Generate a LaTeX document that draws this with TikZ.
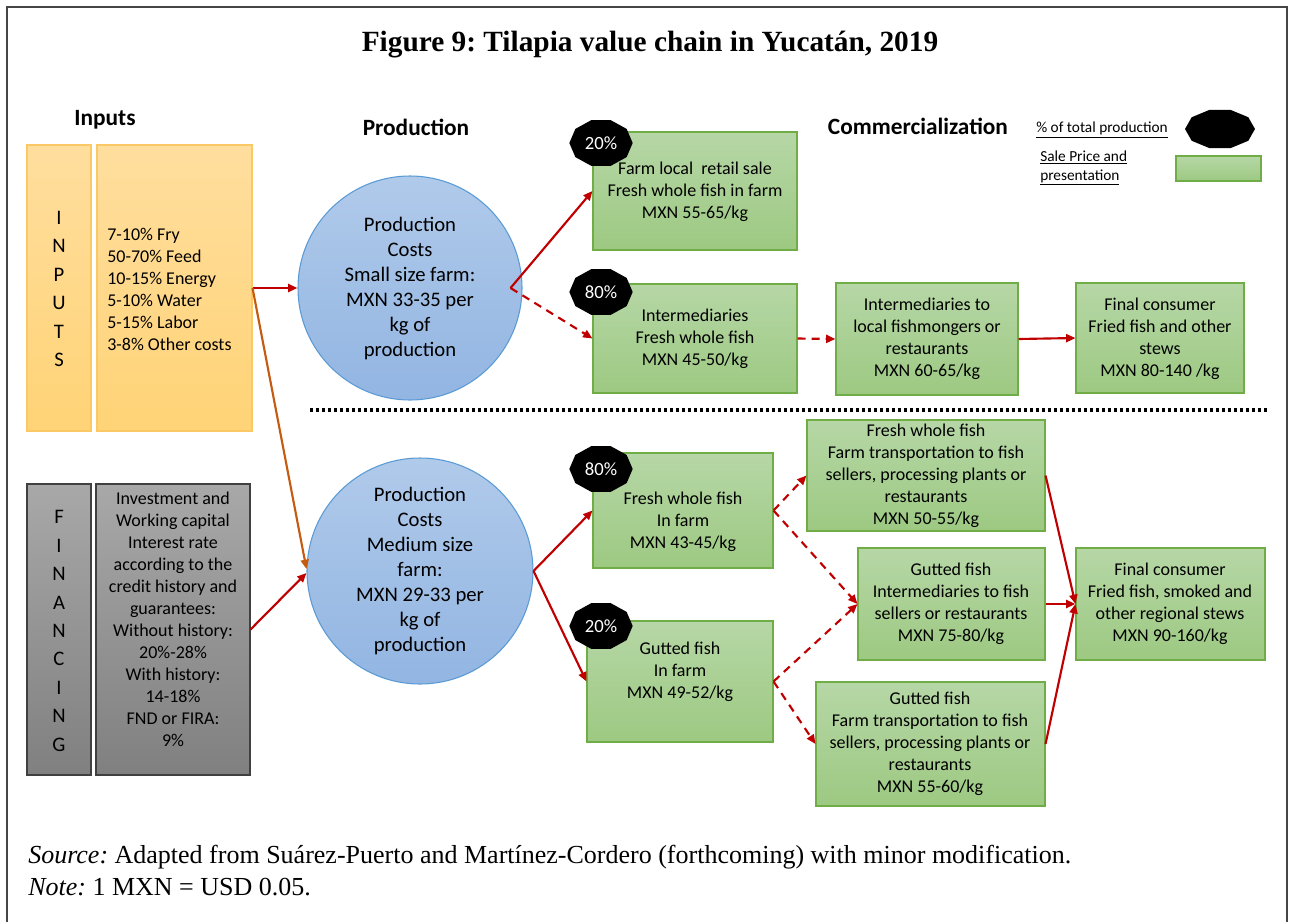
\documentclass[tikz,border=0pt]{standalone}
\usepackage{fontspec}
\setmainfont{Carlito}
\newfontfamily\seriffont{Liberation Serif}
\usetikzlibrary{arrows.meta,shapes.geometric,fit}
\frenchspacing
\definecolor{myred}{RGB}{192,0,0}
\definecolor{myorange}{RGB}{197,90,17}
\definecolor{gtop}{RGB}{182,215,166}
\definecolor{gbot}{RGB}{157,201,130}
\definecolor{gborder}{RGB}{112,173,71}
\definecolor{otop}{RGB}{255,222,158}
\definecolor{obot}{RGB}{255,211,118}
\definecolor{oborder}{RGB}{250,200,100}
\definecolor{ftop}{RGB}{168,168,168}
\definecolor{fbot}{RGB}{128,128,128}
\definecolor{fborder}{RGB}{64,64,64}
\definecolor{ctop}{RGB}{176,202,234}
\definecolor{cbot}{RGB}{146,181,226}
\definecolor{cborder}{RGB}{91,155,213}
\definecolor{framecol}{RGB}{70,70,70}
\newcommand{\mybadge}[6]{%
  \begin{scope}[shift={(#2,#3)}, xscale=#5]
    \node[badge, minimum size=#6, transform shape] (#1) at (0,0) {};
  \end{scope}
  \node[badgetxt] (#1t) at (#2,#3) {#4};}
\begin{document}
\begin{tikzpicture}[x=0.75pt,y=-0.75pt,
  gbox/.style={draw=gborder, line width=0.8pt, top color=gtop, bottom color=gbot, inner sep=0pt},
  obox/.style={draw=oborder, line width=0.8pt, top color=otop, bottom color=obot, inner sep=0pt},
  fbox/.style={draw=fborder, line width=0.8pt, top color=ftop, bottom color=fbot, inner sep=0pt},
  cnode/.style={circle, draw=cborder, line width=0.8pt, top color=ctop, bottom color=cbot, inner sep=0pt, align=center, font=\fontsize{15.5}{18.75}\selectfont},
  txt/.style={font=\fontsize{13.5}{16.5}\selectfont, align=center, inner sep=0pt},
  head/.style={font=\fontsize{17.5}{20}\selectfont\bfseries, inner sep=0pt},
  vletters/.style={font=\fontsize{15.5}{21.3}\selectfont, align=center, inner sep=0pt},
  badge/.style={regular polygon, regular polygon sides=10, fill=black, inner sep=0pt},
  badgetxt/.style={text=white, font=\fontsize{14}{16}\selectfont, inner sep=0pt},
  legtxt/.style={font=\fontsize{11.5}{14.25}\selectfont, align=left, inner sep=0pt},
  arr/.style={draw=myred, line width=1.6pt, -{Triangle[length=7pt,width=6pt]}},
  darr/.style={arr, dash pattern=on 6pt off 4.5pt},
  oarr/.style={draw=myorange, line width=1.6pt, -{Triangle[length=7pt,width=6pt]}},
  srcfont/.style={font=\seriffont\fontsize{19.5}{23}\selectfont, anchor=west, inner sep=0pt}
]
\useasboundingbox (0,0) rectangle (1293,922);
\fill[white] (0,0) rectangle (1293,922);
% frame
\draw[framecol, line width=1.3pt] (7,922) -- (7,7) -- (1287,7) -- (1287,922);

% title
\node[font=\seriffont\bfseries\fontsize{22}{26}\selectfont, inner sep=0pt] (title) at (650,45) {Figure 9: Tilapia value chain in Yucatán, 2019};

% headings
\node[head] (hin) at (105,120) {Inputs};
\node[head] (hprod) at (416,127) {Production};
\node[head] (hcom) at (918,126) {Commercialization};

% legend
\node[legtxt, anchor=west] (leg1) at (1036,130) {\underline{\% of total production}};
\mybadge{legb}{1220}{129}{}{1.75}{30pt}
\node[legtxt, anchor=west] (leg2) at (1040,168) {\underline{Sale Price and}\\\underline{presentation}};
\node[gbox, fit={(1176,156) (1261,181)}] (legg) {};

% inputs
\node[obox, fit={(27,145) (91,431)}] (instrip) {};
\node[vletters] (inl) at (59,289) {I\\N\\P\\U\\T\\S};
\node[obox, fit={(97,145) (252,431)}] (inbox) {};
\node[txt, align=left, anchor=west] (intext) at (107,289) {7-10\% Fry\\50-70\% Feed\\10-15\% Energy\\5-10\% Water\\5-15\% Labor\\3-8\% Other costs};

% financing
\node[fbox, fit={(27,484) (91,775)}] (finstrip) {};
\node[vletters] (finl) at (59,631) {F\\I\\N\\A\\N\\C\\I\\N\\G};
\node[fbox, fit={(96,484) (250,775)}] (finbox) {};
\node[txt] (fintext) at (173,619) {Investment and\\Working capital\\Interest rate\\according to the\\credit history and\\guarantees:\\Without history:\\20\%-28\%\\With history:\\14-18\%\\FND or FIRA:\\9\%};

% circles
\node[cnode, minimum size=168pt] (c1) at (410,288) {Production\\Costs\\Small size farm:\\MXN 33-35 per\\kg of\\production};
\node[cnode, minimum size=169.5pt] (c2) at (420,571) {Production\\Costs\\Medium size\\farm:\\MXN 29-33 per\\kg of\\production};

% dotted separator
\coordinate (dotA) at (310,410);
\coordinate (dotB) at (1267,410);
\draw[black, line width=2.4pt, dash pattern=on 2.4pt off 2.1pt] (dotA) -- (dotB);

% green boxes
\node[gbox, fit={(593,132) (797,250)}] (g1) {};
\node[txt] (g1t) at (695,192) {Farm local\ \ retail sale\\Fresh whole fish in farm\\MXN 55-65/kg};
\node[gbox, fit={(593,284) (797,393)}] (g2) {};
\node[txt] (g2t) at (695,339) {Intermediaries\\Fresh whole fish\\MXN 45-50/kg};
\node[gbox, fit={(836,283) (1018,395)}] (g3) {};
\node[txt] (g3t) at (927,339) {Intermediaries to\\local fishmongers or\\restaurants\\MXN 60-65/kg};
\node[gbox, fit={(1076,283) (1244,393)}] (g4) {};
\node[txt] (g4t) at (1160,339) {Final consumer\\Fried fish and other\\stews\\MXN 80-140 /kg};
\node[gbox, fit={(593,453) (773,568)}] (g5) {};
\node[txt] (g5t) at (683,522) {Fresh whole fish\\In farm\\MXN 43-45/kg};
\node[gbox, fit={(587,621) (773,742)}] (g6) {};
\node[txt] (g6t) at (680,672) {Gutted fish\\In farm\\MXN 49-52/kg};
\node[gbox, fit={(807,420) (1045,531)}] (g7) {};
\node[txt] (g7t) at (926,476) {Fresh whole fish\\Farm transportation to fish\\sellers, processing plants or\\restaurants\\MXN 50-55/kg};
\node[gbox, fit={(858,548) (1045,660)}] (g8) {};
\node[txt] (g8t) at (951,604) {Gutted fish\\Intermediaries to fish\\sellers or restaurants\\MXN 75-80/kg};
\node[gbox, fit={(816,682) (1045,806)}] (g9) {};
\node[txt] (g9t) at (930,744) {Gutted fish\\Farm transportation to fish\\sellers, processing plants or\\restaurants\\MXN 55-60/kg};
\node[gbox, fit={(1076,548) (1265,660)}] (g10) {};
\node[txt] (g10t) at (1170,604) {Final consumer\\Fried fish, smoked and\\other regional stews\\MXN 90-160/kg};

% badges
\mybadge{b1}{601}{143}{20\%}{1.32}{36pt}
\mybadge{b2}{601}{292}{80\%}{1.32}{36pt}
\mybadge{b5}{601}{469}{80\%}{1.32}{36pt}
\mybadge{b6}{601}{626}{20\%}{1.32}{36pt}

% connectors
\coordinate (v1) at ([xshift=-9pt]c1.east);
\draw[arr] (inbox.east) -- (c1.west);
\draw[oarr] (inbox.east) -- (c2.179);
\draw[arr] (finbox.east) -- (c2.181);
\draw[arr] (v1) -- (g1.west);
\draw[darr] (v1) -- (g2.west);
\draw[darr] (g2.east) -- (g3.west);
\draw[arr] (g3.east) -- (g4.west);
\draw[arr] (c2.east) -- (g5.west);
\draw[arr] (c2.east) -- (g6.west);
\draw[darr] (g5.east) -- (g7.west);
\draw[darr] (g5.east) -- (g8.west);
\draw[darr] (g6.east) -- (g8.west);
\draw[darr] (g6.east) -- (g9.west);
\draw[arr] (g7.east) -- (g10.west);
\draw[arr] (g8.east) -- (g10.west);
\draw[arr] (g9.east) -- (g10.west);

% source
\node[srcfont] (src) at (28,857) {\textit{Source:} Adapted from Suárez-Puerto and Martínez-Cordero (forthcoming) with minor modification.};
\node[srcfont] (note) at (28,887) {\textit{Note:} 1 MXN = USD 0.05.};
\end{tikzpicture}
\end{document}
